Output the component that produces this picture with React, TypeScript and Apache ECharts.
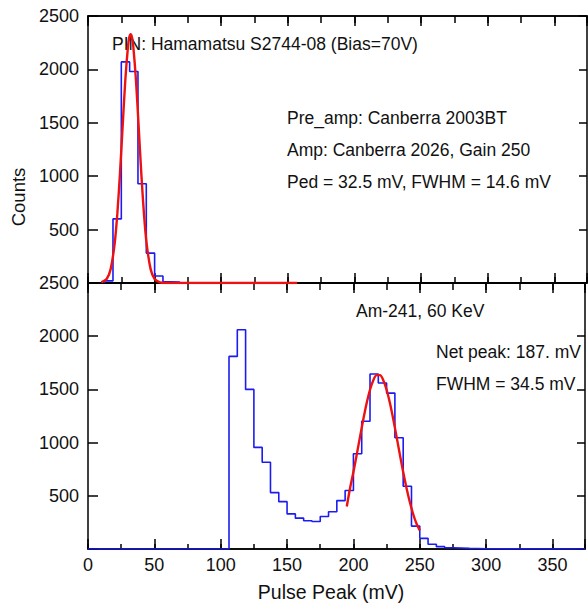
import React, { useEffect, useRef } from "react";
import * as echarts from "echarts";

// ---- data ----
const binWidth = 6.25;
const xMax = 374.5;
const yTicks = [0, 500, 1000, 1500, 2000, 2500];

// PIN pedestal histogram (top panel)
const topBinStart = 12.5;
const topCounts = [20, 600, 2070, 1980, 930, 280, 65, 12, 10];
// Gaussian fit drawn in top panel
const topFitX = [10, 14, 17, 20, 22, 24, 26, 28, 30, 31, 32, 33, 34, 36, 38, 40, 42, 44, 47, 50, 54, 58, 157];
const topFitY = [5, 37, 130, 368, 647, 1026, 1469, 1898, 2213, 2300, 2330, 2300, 2213, 1898, 1469, 1026, 647, 368, 130, 37, 5, 0, 0];

// Am-241 spectrum (bottom panel)
const botBinStart = 106.25;
const botCounts = [
  1810, 2060, 1500, 955, 815, 530, 445, 330, 290, 265, 258, 305, 350, 455, 550,
  895, 1200, 1645, 1560, 1465, 1045, 590, 215, 100, 45, 22, 12, 10, 6, 4, 2,
];
const botFitX = [195, 197.5, 200, 202.5, 205, 207.5, 210, 212.5, 215, 217.5, 220, 222.5, 225, 227.5, 230, 232.5, 235, 237.5, 240, 242.5, 245, 247.5, 250];
const botFitY = [400, 573, 723, 887, 1056, 1221, 1372, 1497, 1587, 1634, 1634, 1587, 1497, 1372, 1221, 1056, 887, 723, 573, 441, 329, 239, 175];

// annotations
const topNotes = [
  { text: "PIN: Hamamatsu S2744-08 (Bias=70V)", x: 112, y: 44 },
  { text: "Pre_amp: Canberra 2003BT", x: 287, y: 118 },
  { text: "Amp: Canberra 2026, Gain 250", x: 287, y: 150 },
  { text: "Ped = 32.5 mV, FWHM = 14.6 mV", x: 287, y: 182 },
];
const botNotes = [
  { text: "Am-241, 60 KeV", x: 356, y: 311 },
  { text: "Net peak: 187. mV", x: 436, y: 352 },
  { text: "FWHM = 34.5 mV", x: 436, y: 384 },
];
const xTitle = "Pulse Peak (mV)";
const yTitle = "Counts";

const FONT = "'Liberation Sans', Arial, sans-serif";
const BLUE = "#1c1cf0";
const RED = "#ee1111";

function histData(start: number, counts: number[], padLeft: boolean) {
  const d: number[][] = [];
  if (padLeft) d.push([0, 0]);
  d.push([start, 0]);
  counts.forEach((c, i) => d.push([start + i * binWidth, c]));
  const end = start + counts.length * binWidth;
  d.push([end, 0]);
  if (padLeft) d.push([xMax, 0]);
  return d;
}

export default function App() {
  const ref = useRef<HTMLDivElement>(null);
  useEffect(() => {
    if (!ref.current) return;
    const chart = echarts.init(ref.current, null, { renderer: "svg" });
    const axisLine = { show: true, onZero: false, lineStyle: { color: "#000", width: 1.5 } };
    const mkX = (grid: number, pos: "top" | "bottom", interval: number, len: number, labels: boolean) => ({
      type: "value",
      gridIndex: grid,
      position: pos,
      min: 0,
      max: xMax,
      interval,
      axisLine,
      axisTick: { show: true, inside: true, length: len, lineStyle: { color: "#000", width: 1.5 } },
      axisLabel: labels
        ? {
            show: true,
            margin: 7,
            fontSize: 18,
            fontFamily: FONT,
            color: "#111",
            formatter: (v: number) => (v % 50 === 0 ? String(v) : ""),
          }
        : { show: false },
      splitLine: { show: false },
    });
    const mkY = (grid: number, pos: "left" | "right", labels: boolean, len: number) => ({
      type: "value",
      gridIndex: grid,
      position: pos,
      min: yTicks[0],
      max: yTicks[yTicks.length - 1],
      interval: yTicks[1] - yTicks[0],
      axisLine,
      axisTick: { show: true, inside: true, length: len, lineStyle: { color: "#000", width: 1.5 } },
      axisLabel: labels
        ? {
            show: true,
            margin: 9,
            fontSize: 18,
            fontFamily: FONT,
            color: "#111",
            formatter: (v: number) => (v === 0 ? "" : String(v)),
          }
        : { show: false },
      splitLine: { show: false },
    });

    const note = (n: { text: string; x: number; y: number }) => ({
      type: "text",
      x: n.x,
      y: n.y,
      style: {
        text: n.text,
        fill: "#111",
        font: `17.5px ${FONT}`,
        align: "left",
        verticalAlign: "middle",
      },
    });

    chart.setOption({
      animation: false,
      backgroundColor: "#fff",
      grid: [
        { left: 88, top: 16, width: 499, height: 267 },
        { left: 88, top: 283, width: 499, height: 266 },
      ],
      xAxis: [
        mkX(0, "bottom", 50, 10, false),
        mkX(0, "bottom", 25, 6, false),
        mkX(0, "top", 50, 10, false),
        mkX(0, "top", 25, 7, false),
        mkX(1, "bottom", 50, 10, true),
        mkX(1, "bottom", 25, 5, false),
        mkX(1, "top", 50, 10, false),
        mkX(1, "top", 25, 7, false),
      ],
      yAxis: [mkY(0, "left", true, 10), mkY(0, "right", false, 8), mkY(1, "left", true, 10), mkY(1, "right", false, 8)],
      series: [
        {
          type: "line",
          xAxisIndex: 0,
          yAxisIndex: 0,
          step: "end",
          symbol: "none",
          data: histData(topBinStart, topCounts, false),
          lineStyle: { color: BLUE, width: 1.6 },
        },
        {
          type: "line",
          xAxisIndex: 0,
          yAxisIndex: 0,
          smooth: 0.3,
          symbol: "none",
          data: topFitX.map((x, i) => [x, topFitY[i]]),
          lineStyle: { color: RED, width: 2.4 },
        },
        {
          type: "line",
          xAxisIndex: 4,
          yAxisIndex: 2,
          step: "end",
          symbol: "none",
          data: histData(botBinStart, botCounts, true),
          lineStyle: { color: BLUE, width: 1.6 },
        },
        {
          type: "line",
          xAxisIndex: 4,
          yAxisIndex: 2,
          smooth: 0.3,
          symbol: "none",
          data: botFitX.map((x, i) => [x, botFitY[i]]),
          lineStyle: { color: RED, width: 2.4 },
        },
      ],
      graphic: [
        ...topNotes.map(note),
        ...botNotes.map(note),
        {
          type: "text",
          x: 331,
          y: 592,
          style: { text: xTitle, fill: "#111", font: `19.5px ${FONT}`, align: "center", verticalAlign: "middle" },
        },
        {
          type: "text",
          x: 18,
          y: 197,
          rotation: Math.PI / 2,
          style: { text: yTitle, fill: "#111", font: `18.5px ${FONT}`, align: "center", verticalAlign: "middle" },
        },
      ],
    });
    return () => chart.dispose();
  }, []);
  return <div ref={ref} style={{ position: "absolute", left: 0, top: 0, width: 588, height: 605 }} />;
}
